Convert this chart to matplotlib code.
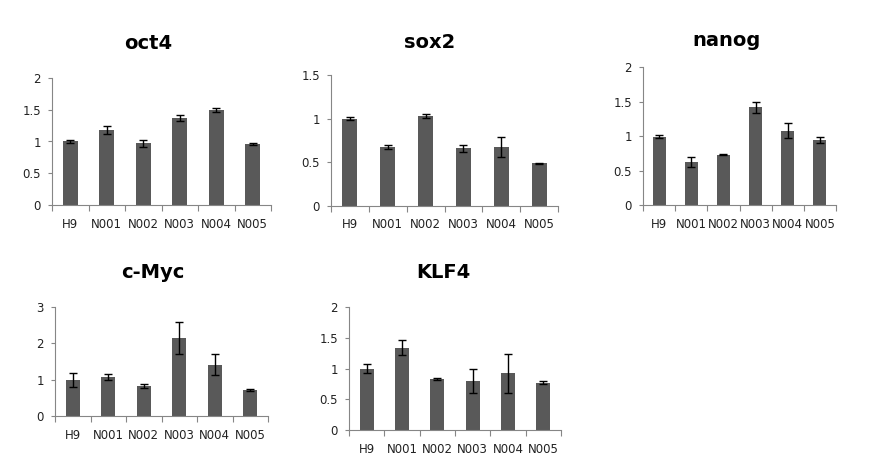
import numpy as np
import matplotlib.pyplot as plt

samples = ['H9', 'N001', 'N002', 'N003', 'N004', 'N005']

oct4_vals = [1.00, 1.18, 0.97, 1.37, 1.49, 0.96]
oct4_err = [0.02, 0.06, 0.05, 0.04, 0.03, 0.01]
sox2_vals = [1.00, 0.675, 1.03, 0.66, 0.675, 0.49]
sox2_err = [0.02, 0.027, 0.025, 0.04, 0.11, 0.005]
nanog_vals = [0.99, 0.625, 0.73, 1.42, 1.075, 0.945]
nanog_err = [0.02, 0.07, 0.01, 0.08, 0.11, 0.04]
cmyc_vals = [0.99, 1.08, 0.83, 2.15, 1.41, 0.72]
cmyc_err = [0.20, 0.08, 0.06, 0.43, 0.29, 0.03]
klf4_vals = [1.00, 1.34, 0.83, 0.80, 0.92, 0.77]
klf4_err = [0.08, 0.12, 0.02, 0.20, 0.32, 0.03]

W, H = 877, 465
fig = plt.figure(figsize=(W / 100, H / 100), dpi=100)
fig.patch.set_facecolor('white')

def panel(x0, x1, ytop, ybot, vals, errs, ymax, step, title, tx, ty):
    ax = fig.add_axes([x0 / W, 1 - ybot / H, (x1 - x0) / W, (ybot - ytop) / H])
    x = np.arange(len(samples))
    ax.bar(x, vals, width=0.4, color='#595959', zorder=2)
    ax.errorbar(x, vals, yerr=errs, fmt='none', ecolor='black', elinewidth=1,
                capsize=3, capthick=1, zorder=3)
    ax.set_xlim(-0.5, len(samples) - 0.5)
    ax.set_ylim(0, ymax)
    ticks = np.arange(0, ymax + step / 2, step)
    ax.set_yticks(ticks)
    ax.set_yticklabels(['%g' % t for t in ticks])
    ax.set_xticks(x)
    ax.set_xticklabels(samples)
    ax.set_xticks(np.arange(-0.5, len(samples)), minor=True)
    ax.tick_params(axis='x', which='major', length=0, pad=9, labelsize=8.5, colors='#222222')
    ax.tick_params(axis='x', which='minor', length=4, color='#868686', width=0.8)
    ax.tick_params(axis='y', length=3, color='#868686', width=0.8, labelsize=8.5,
                   colors='#222222', pad=5)
    ax.tick_params(axis='y', color='#868686')
    for s in ['top', 'right']:
        ax.spines[s].set_visible(False)
    for s in ['left', 'bottom']:
        ax.spines[s].set_color('#868686')
        ax.spines[s].set_linewidth(0.8)
    fig.text(tx / W, 1 - ty / H, title, ha='center', va='center',
             fontsize=14, fontweight='bold', color='black')
    return ax

panel(52, 271, 78, 205, oct4_vals, oct4_err, 2, 0.5, 'oct4', 148, 43)
panel(331, 558, 75, 206, sox2_vals, sox2_err, 1.5, 0.5, 'sox2', 430, 42)
panel(643, 836, 67, 205, nanog_vals, nanog_err, 2, 0.5, 'nanog', 727, 40)
panel(55, 268, 307, 416, cmyc_vals, cmyc_err, 3, 1, 'c-Myc', 153, 273)
panel(349, 561, 307, 430, klf4_vals, klf4_err, 2, 0.5, 'KLF4', 443, 273)

fig.savefig('out.png', dpi=100)
